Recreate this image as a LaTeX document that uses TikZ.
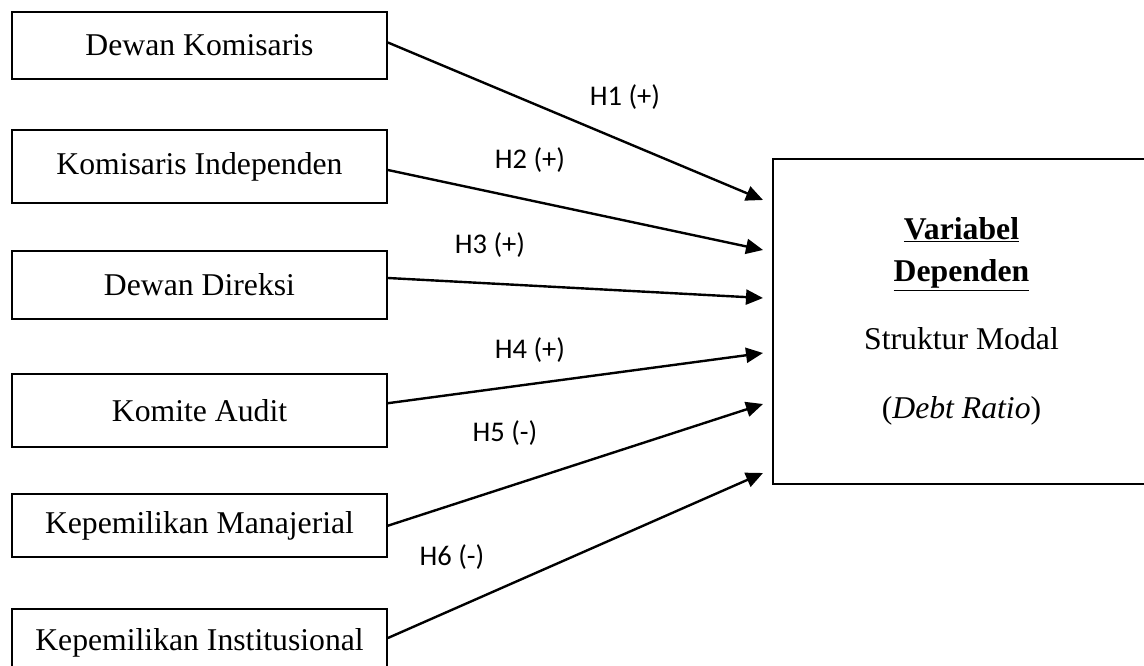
\documentclass[tikz,border=0pt]{standalone}
\usepackage{fontspec}
\setmainfont{Liberation Serif}
\newfontfamily\labfont{Carlito}
\usetikzlibrary{arrows.meta}
\tikzset{
  varbox/.style={draw=black, line width=1.8pt, rectangle, inner sep=0pt, minimum width=375pt,
    font=\fontsize{31.7}{38}\selectfont},
  depbox/.style={draw=black, line width=1.8pt, rectangle, inner sep=0pt, minimum width=377pt, minimum height=325pt,
    align=center, font=\fontsize{31.7}{42}\selectfont},
  hlab/.style={inner sep=0pt, font=\labfont\fontsize{28.5}{34}\selectfont},
  conn/.style={line width=2.4pt, -{Triangle[length=17pt,width=15pt]}}
}
\begin{document}
\begin{tikzpicture}[x=1pt,y=-1pt]
\useasboundingbox (0,0) rectangle (1144,666);
\node[varbox, minimum height=67pt] (dk) at (199.5,45.5) {Dewan Komisaris};
\node[varbox, minimum height=73pt] (ki) at (199.5,166.5) {Komisaris Independen};
\node[varbox, minimum height=68.6pt] (dd) at (199.5,285) {Dewan Direksi};
\node[varbox, minimum height=73.3pt] (ka) at (199.5,410.7) {Komite Audit};
\node[varbox, minimum height=63.3pt] (km) at (199.5,525.7) {Kepemilikan Manajerial};
\node[varbox, minimum height=68pt] (kin) at (199.5,643) {Kepemilikan Institusional};
\node[depbox] (dep) at (961.5,321.5) {\textbf{\underline{Variabel}}\\\textbf{\underline{Dependen}}\\[26pt]Struktur Modal\\[27pt](\textit{Debt Ratio})};
\coordinate (t1) at (763,200);
\coordinate (t2) at (763,250);
\coordinate (t3) at (763,298);
\coordinate (t4) at (763,353);
\coordinate (t5) at (763,404);
\coordinate (t6) at (763,473);
\draw[conn] ([yshift=3pt]dk.east) -- (t1);
\draw[conn] ([yshift=-3.5pt]ki.east) -- (t2);
\draw[conn] ([yshift=7pt]dd.east) -- (t3);
\draw[conn] ([yshift=7.5pt]ka.east) -- (t4);
\draw[conn] ([yshift=0pt]km.east) -- (t5);
\draw[conn] ([yshift=5pt]kin.east) -- (t6);
\node[hlab] (h1) at (625,97) {H1 (+)};
\node[hlab] (h2) at (530,160) {H2 (+)};
\node[hlab] (h3) at (490,245) {H3 (+)};
\node[hlab] (h4) at (530,350) {H4 (+)};
\node[hlab] (h5) at (505,433) {H5 (-)};
\node[hlab] (h6) at (452,557) {H6 (-)};
\end{tikzpicture}
\end{document}
